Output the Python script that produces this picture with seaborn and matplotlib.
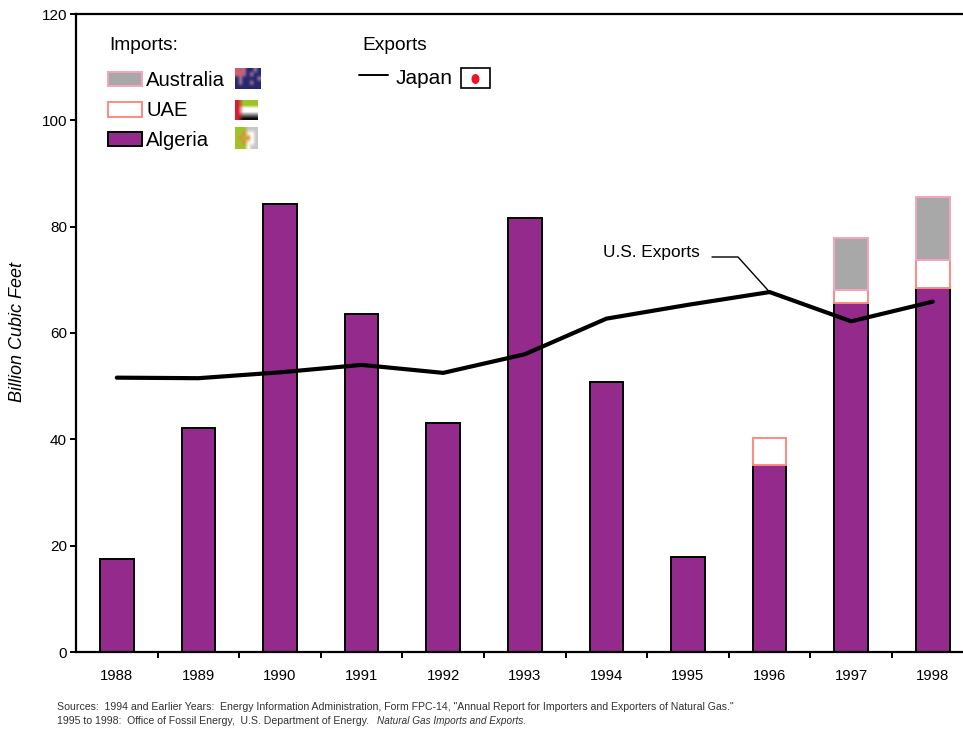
import numpy as np
import pandas as pd
import matplotlib
matplotlib.use("Agg")
import matplotlib.pyplot as plt
from matplotlib.patches import Rectangle, Ellipse
import seaborn as sns

years = ["1988","1989","1990","1991","1992","1993","1994","1995","1996","1997","1998"]
algeria = [17.5,42.1,84.2,63.5,43.1,81.7,50.7,17.8,35.2,65.6,68.5]
uae = [0,0,0,0,0,0,0,0,5.0,2.4,5.2]
australia = [0,0,0,0,0,0,0,0,0,9.9,11.8]
japan = [51.6,51.5,52.6,54.0,52.5,56.0,62.7,65.3,67.7,62.2,65.9]

W, H = 963, 730
sns.set_theme(style="white")
plt.rcParams['font.family'] = ['Liberation Sans', 'DejaVu Sans']
PURPLE, SALMON, PINK, GREY = "#932a8c", "#ff8a80", "#f5a3c0", "#a8a8a8"

fig = plt.figure(figsize=(W/100, H/100), dpi=100, facecolor="white")
L, R, T, B = 76, 963, 14, 652
ax = fig.add_axes([L/W, 1-B/H, (R-L)/W, (B-T)/H])
df = pd.DataFrame(dict(year=years, algeria=algeria, uae=uae, australia=australia, japan=japan))
df["base2"] = df.algeria + df.uae
def bars(col, bottom, fc, ec):
    mask = df[col].values > 0
    sns.barplot(data=df[mask], x="year", y=col, bottom=np.asarray(bottom)[mask], order=years,
                color=fc, edgecolor=ec, linewidth=1.4, width=0.41, saturation=1, ax=ax, errorbar=None)
bars("algeria", np.zeros(len(df)), PURPLE, "black")
bars("uae", df.algeria.values, "white", SALMON)
bars("australia", df.base2.values, GREY, PINK)
sns.lineplot(data=df, x="year", y="japan", color="black", linewidth=3, ax=ax, errorbar=None, sort=False)

step = 81.6
ax.set_xlim(-0.5, (R-L)/step - 0.5)
ax.set_ylim(0, 120)
ax.set_xlabel(""); ax.set_ylabel("")
ax.set_yticks(range(0, 121, 20))
ax.set_xticks(range(len(years)))
ax.set_xticklabels(years, fontsize=10.7, color="black")
ax.tick_params(axis="x", length=0, pad=12)
ax.tick_params(axis="y", left=True, length=4, width=1.4, labelsize=11, color="black", labelcolor="black", pad=2.5)
ax.set_xticks(np.arange(0.5, 10.5, 1), minor=True)
ax.tick_params(axis="x", which="minor", bottom=True, length=4, width=1.4, color="black")
ax.spines["right"].set_visible(False)
for s in ["left", "bottom", "top"]:
    ax.spines[s].set_linewidth(1.6); ax.spines[s].set_color("black")

def px(x, y):
    return x/W, 1-y/H
def ftext(x, y, s, **kw):
    kw.setdefault("va", "center"); kw.setdefault("color", "black")
    fig.text(*px(x, y), s, **kw)
def frect(x0, y0, x1, y1, fc, ec, lw=1.4):
    fig.add_artist(Rectangle(px(x0, y1), (x1-x0)/W, (y1-y0)/H, fc=fc, ec=ec, lw=lw, transform=fig.transFigure))

ftext(17.5, 332, "Billion Cubic Feet", rotation=90, fontsize=13, style="italic", ha="center")
ftext(109.5, 46, "Imports:", fontsize=13.8)
ftext(362.5, 45, "Exports", fontsize=13.8)
ftext(146, 80, "Australia", fontsize=14.6)
ftext(146, 111, "UAE", fontsize=14.6)
ftext(146, 140, "Algeria", fontsize=14.6)
ftext(396, 78, "Japan", fontsize=15)
frect(107.5, 72, 141.5, 86, GREY, PINK)
frect(107.5, 102.5, 141.5, 116.5, "white", SALMON)
frect(107.5, 132, 141.5, 146, PURPLE, "black")
fig.add_artist(plt.Line2D([359, 388], [H-75, H-75], color="black", lw=1.4, transform=None))

# flags
def flag(x0, y0, x1, y1, arr):
    a = fig.add_axes([x0/W, 1-y1/H, (x1-x0)/W, (y1-y0)/H])
    a.imshow(arr, aspect="auto", interpolation="bilinear"); a.axis("off")
navy, red, lt, wh, bk, gn, gr = [np.array(c)/255 for c in [(40,40,110),(225,90,100),(150,110,150),(255,255,255),(10,10,10),(160,195,40),(125,125,125)]]
flag(235, 68, 260, 89, np.array([[red,lt,red,navy,navy,lt,navy],[red,red,lt,navy,lt,navy,navy],[navy,lt,navy,navy,navy,navy,lt],[navy,lt,navy,navy,lt,navy,navy],[navy,navy,navy,navy,navy,navy,navy]]))
rd = np.array((215,30,50))/255
flag(235, 100, 258, 120, np.array([[rd,gn,gn,gn],[rd,gn,gn,gn],[rd,wh,wh,wh],[rd,wh,wh,wh],[rd,gr,gr,gr],[rd,bk,bk,bk]]))
org = np.array((225,140,60))/255; cream = np.array((250,235,215))/255; lg = np.array((200,200,200))/255
flag(235, 127, 258, 149, np.array([[gn,gn,gn,lg,lg,lg],[gn,gn,org,cream,wh,lg],[gn,org,gn,org,wh,lg],[gn,gn,org,cream,wh,lg],[gn,gn,gn,wh,lg,lg]]))
frect(461, 68, 490, 88, "white", "black", 1.2)
fig.add_artist(Ellipse(px(475.5, 79), 8/W, 10/H, fc="#f01428", ec="none", transform=fig.transFigure))

ftext(603, 252, "U.S. Exports", fontsize=12.4)
p = ax.transData.transform((8, japan[8]))
fig.add_artist(plt.Line2D([712, 738, p[0]], [H-257, H-257, p[1]], color="black", lw=1, transform=None))

ftext(57, 707, "Sources:  1994 and Earlier Years:  Energy Information Administration, Form FPC-14, \"Annual Report for Importers and Exporters of Natural Gas.\"", fontsize=7.55, color="#333333")
fig.text(57/W, 1-721/H, "1995 to 1998:  Office of Fossil Energy,  U.S. Department of Energy.  ", fontsize=7.55, color="#333333", va="center")
fig.text(377/W, 1-721/H, "Natural Gas Imports and Exports.", fontsize=7.2, style="italic", color="#333333", va="center")

fig.savefig("out.png", dpi=100)
